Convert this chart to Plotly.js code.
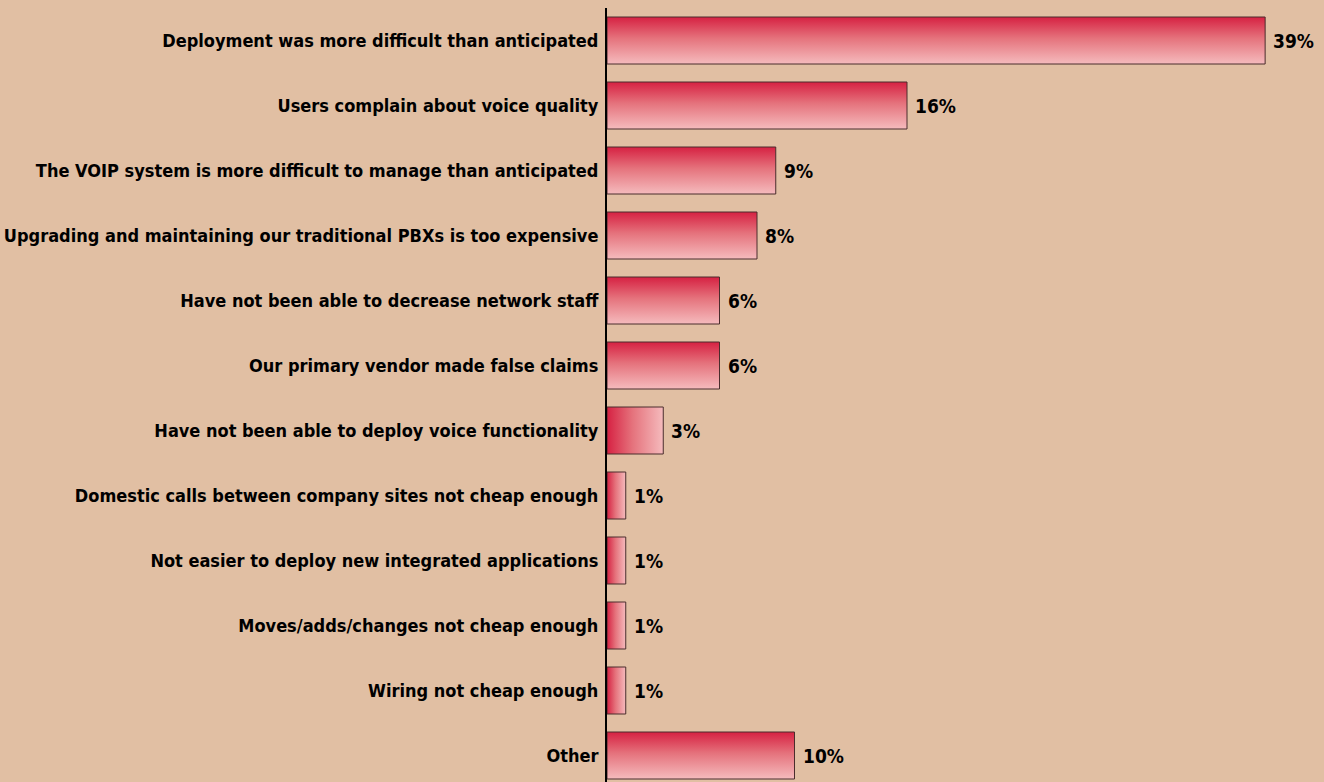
<!DOCTYPE html>
<html>
<head>
<meta charset="utf-8">
<script src="https://cdn.plot.ly/plotly-3.0.1.min.js"></script>
<style>
  html, body { margin: 0; padding: 0; background: #e1bfa3; }
  #chart { width: 1324px; height: 782px; }
</style>
</head>
<body>
<div id="chart"></div>
<script>
// categories, top to bottom
var categories = [
	'Deployment was more difficult than anticipated',
	'Users complain about voice quality',
	'The VOIP system is more difficult to manage than anticipated',
	'Upgrading and maintaining our traditional PBXs is too expensive',
	'Have not been able to decrease network staff',
	'Our primary vendor made false claims',
	'Have not been able to deploy voice functionality',
	'Domestic calls between company sites not cheap enough',
	'Not easier to deploy new integrated applications',
	'Moves/adds/changes not cheap enough',
	'Wiring not cheap enough',
	'Other'
];
// percentages as printed
var pct = [39, 16, 9, 8, 6, 6, 3, 1, 1, 1, 1, 10];
// bar lengths as drawn in the picture (top bar is cut short)
var bar_len = [35.1, 16, 9, 8, 6, 6, 3, 1, 1, 1, 1, 10];

// gradient direction per bar: 'v' top->bottom, 'h' left->right
var grad_dir = ['v', 'v', 'v', 'v', 'v', 'v', 'h', 'h', 'h', 'h', 'h', 'v'];

var FONT = 'DejaVu Sans Condensed, Liberation Sans Narrow, sans-serif';

var trace = {
	type: 'bar',
	orientation: 'h',
	x: bar_len,
	y: categories,
	marker: {
		color: '#e57a82',
		line: { color: '#4a2c2c', width: 1 }
	},
	hoverinfo: 'none'
};

var annotations = categories.map(function(c, i) {
	return {
		x: bar_len[i],
		y: c,
		xref: 'x',
		yref: 'y',
		text: pct[i] + '%',
		showarrow: false,
		xanchor: 'left',
		xshift: 6,
		font: { family: FONT, size: 19, color: '#000', weight: 'bold' }
	};
});

var layout = {
	width: 1324,
	height: 782,
	paper_bgcolor: '#e1bfa3',
	plot_bgcolor: '#e1bfa3',
	margin: { l: 607, r: 0, t: 8, b: 0, autoexpand: false },
	bargap: 0.277,
	showlegend: false,
	xaxis: {
		range: [0, 717 / 18.75],
		showgrid: false,
		zeroline: false,
		showticklabels: false,
		showline: false,
		fixedrange: true
	},
	yaxis: {
		type: 'category',
		range: [774 / 65 - 0.5, -0.5],
		showgrid: false,
		zeroline: false,
		showline: true,
		linecolor: '#000',
		linewidth: 2,
		ticks: '',
		ticklabelstandoff: 3,
		tickfont: { family: FONT, size: 18, color: '#000', weight: 'bold' },
		automargin: false,
		fixedrange: true
	},
	annotations: annotations
};

function add_gradients(gd) {
	var ns = 'http://www.w3.org/2000/svg';
	var svg = gd.querySelector('svg.main-svg');
	if (!svg) return;
	var defs = svg.querySelector('defs');
	if (!defs) {
		defs = document.createElementNS(ns, 'defs');
		svg.insertBefore(defs, svg.firstChild);
	}
	var dirs = { v: ['0', '0', '0', '1'], h: ['0', '0', '1', '0'] };
	Object.keys(dirs).forEach(function(k) {
		if (document.getElementById('bar_grad_' + k)) return;
		var g = document.createElementNS(ns, 'linearGradient');
		g.setAttribute('id', 'bar_grad_' + k);
		g.setAttribute('x1', dirs[k][0]);
		g.setAttribute('y1', dirs[k][1]);
		g.setAttribute('x2', dirs[k][2]);
		g.setAttribute('y2', dirs[k][3]);
		var stops = [['0', '#d62142'], ['0.45', '#e5727c'], ['1', '#f5bbbd']];
		stops.forEach(function(s) {
			var st = document.createElementNS(ns, 'stop');
			st.setAttribute('offset', s[0]);
			st.setAttribute('stop-color', s[1]);
			g.appendChild(st);
		});
		defs.appendChild(g);
	});
	var paths = gd.querySelectorAll('.barlayer path');
	for (var i = 0; i < paths.length; i++) {
		paths[i].style.setProperty('fill', 'url(#bar_grad_' + grad_dir[i] + ')');
		paths[i].style.setProperty('fill-opacity', '1');
	}
}

var gd = document.getElementById('chart');
Plotly.newPlot(gd, [trace], layout, { displayModeBar: false, staticPlot: true });
add_gradients(gd);
setTimeout(function() { add_gradients(gd); }, 0);
</script>
</body>
</html>
